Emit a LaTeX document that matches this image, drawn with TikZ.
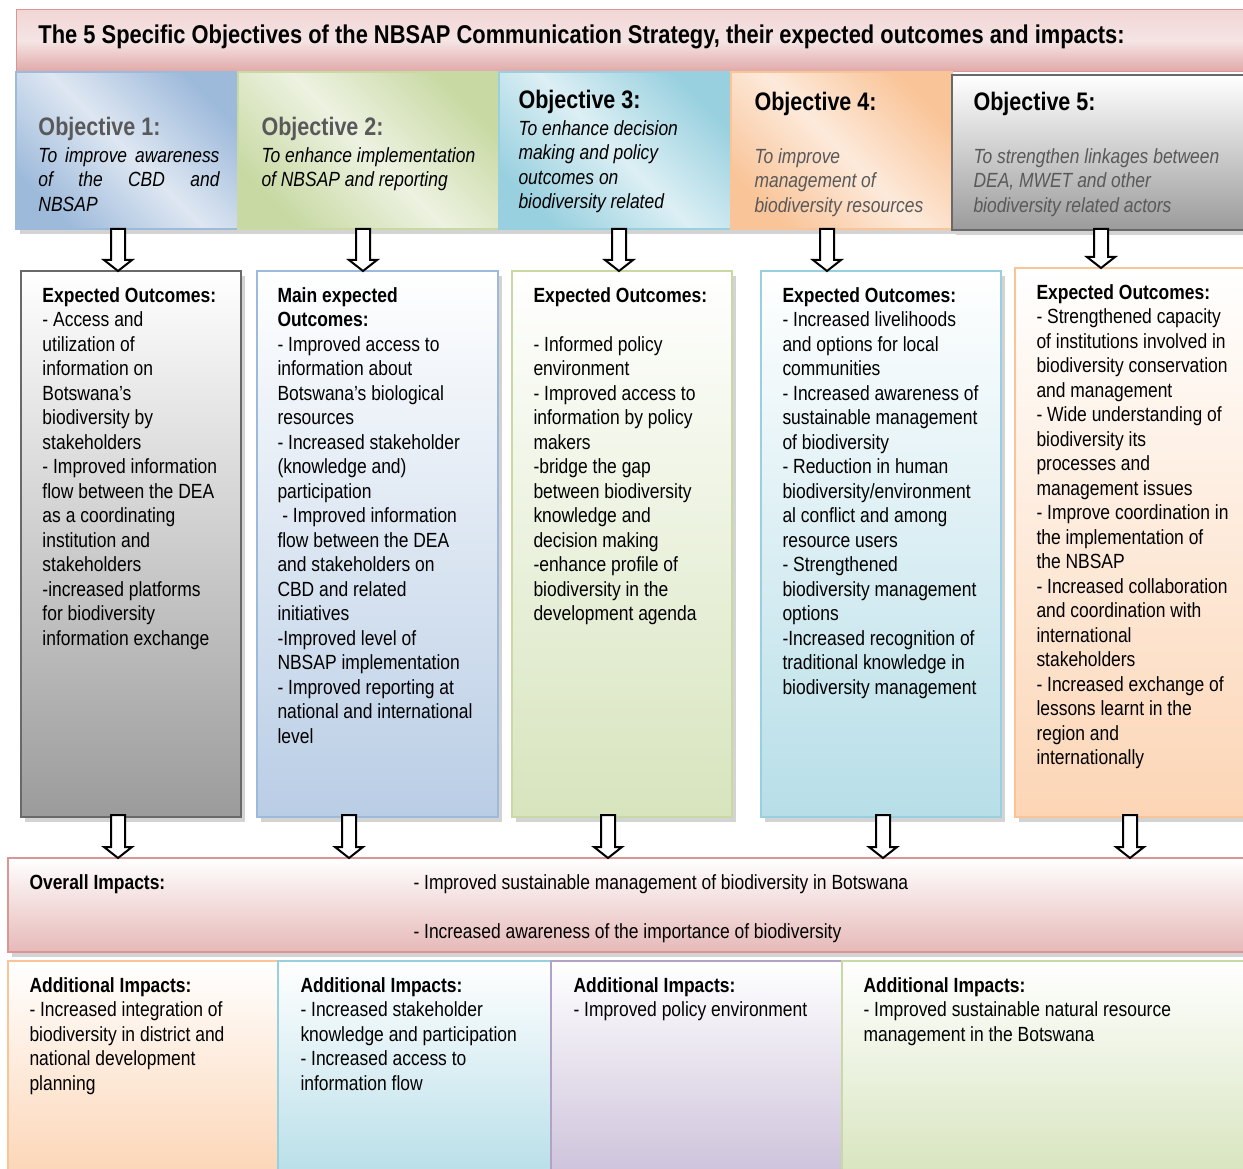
\documentclass[tikz,border=0pt]{standalone}
\usepackage{fontspec}
\setmainfont{Liberation Sans}[FakeStretch=0.85]
\usetikzlibrary{calc,fit,shadows}

\definecolor{pinkdark}{RGB}{217,150,148}
\definecolor{pinktop}{RGB}{241,214,213}
\definecolor{pinklight}{RGB}{245,228,228}
\definecolor{pinkbot}{RGB}{224,168,167}
\definecolor{pinkmid}{RGB}{230,185,184}
\definecolor{bluedark}{RGB}{158,186,219}
\definecolor{bluelight}{RGB}{222,231,242}
\definecolor{bluebot}{RGB}{185,205,229}
\definecolor{greendark}{RGB}{200,217,163}
\definecolor{greenlight}{RGB}{237,242,225}
\definecolor{greenbot}{RGB}{215,228,189}
\definecolor{tealdark}{RGB}{152,208,223}
\definecolor{teallight}{RGB}{220,239,244}
\definecolor{tealbot}{RGB}{183,222,232}
\definecolor{orangedark}{RGB}{249,196,152}
\definecolor{orangelight}{RGB}{253,234,219}
\definecolor{orangebot}{RGB}{252,213,181}
\definecolor{purpledark}{RGB}{179,162,199}
\definecolor{purplebot}{RGB}{204,193,218}
\definecolor{greyline}{RGB}{105,105,105}
\definecolor{greybot}{RGB}{155,155,155}
\definecolor{textgrey}{RGB}{89,89,89}

\tikzset{every picture/.style={line width=0.75pt}}
\tikzset{
  boxshadow/.style={drop shadow={shadow xshift=3pt, shadow yshift=-3.5pt, opacity=0.35}},
  banner/.style={inner sep=0pt, draw=pinkdark, line width=0.75pt, top color=pinktop, bottom color=pinkbot, middle color=pinklight},
  objbox/.style 2 args={inner sep=0pt, draw=#1, line width=1pt, top color=#1, bottom color=#1, middle color=#2, shading angle=-45, boxshadow},
  lastobjbox/.style={inner sep=0pt, draw=greyline, line width=1.8pt, top color=white, bottom color=greybot, boxshadow},
  outbox/.style 2 args={inner sep=0pt, draw=#1, line width=1.8pt, top color=white, bottom color=#2, boxshadow},
  addbox/.style 2 args={inner sep=0pt, draw=#1, line width=1.8pt, top color=white, bottom color=#2},
  headline/.style={inner sep=0pt, anchor=base west, font=\bfseries\fontsize{19.3}{23}\selectfont},
  objtitle/.style={inner sep=0pt, anchor=base west, font=\bfseries\fontsize{19}{22}\selectfont},
  objtext/.style={inner sep=0pt, anchor=north west, align=left, font=\itshape\fontsize{15.4}{18.375}\selectfont},
  bodytext/.style={inner sep=0pt, anchor=north west, align=left, font=\fontsize{15.4}{18.375}\selectfont},
  hollowarrow/.style={draw=black, fill=white, line width=1.5pt, line join=miter},
}

% block arrow pointing down, from #1 (top) to #2 (tip)
\newcommand{\downarrowbox}[2]{%
  \draw[hollowarrow] ($(#1)+(-7,0)$) -- ($(#1)+(7,0)$) -- ($(#2)+(7,-11)$) -- ($(#2)+(14,-11)$) -- (#2) -- ($(#2)+(-14,-11)$) -- ($(#2)+(-7,-11)$) -- cycle;}

\begin{document}
\begin{tikzpicture}[x=0.75pt,y=0.75pt,yscale=-1,xscale=1]
	\useasboundingbox (0,0) rectangle (1243,1169);
	\clip (0,0) rectangle (1243,1169);

	% Banner
	\node[banner, fit={(16,10) (1252,72)}] (banner) {};
	\node[headline] (bannertext) at (38,44) {The 5 Specific Objectives of the NBSAP Communication Strategy, their expected outcomes and impacts:};

	% Objective boxes
	\node[objbox={bluedark}{bluelight}, fit={(16,72) (238,229)}] (obj1) {};
	\node[objbox={greendark}{greenlight}, fit={(238,72) (499,229)}] (obj2) {};
	\node[objbox={tealdark}{teallight}, fit={(499,72) (731,229)}] (obj3) {};
	\node[objbox={orangedark}{orangelight}, fit={(731,72) (952,229)}] (obj4) {};
	\node[lastobjbox, fit={(952,75) (1252,230)}] (obj5) {};

	% Text Node
	\node[objtitle, text=textgrey] (obj1title) at (38,136) {Objective 1:};
	\node[objtext] (obj1text) at (38,147) {\makebox[135.75pt][s]{To improve awareness}\\\makebox[135.75pt][s]{of the CBD and}\\NBSAP};
	% Text Node
	\node[objtitle, text=textgrey] (obj2title) at (261,136) {Objective 2:};
	\node[objtext] (obj2text) at (261,147) {To enhance implementation\\of NBSAP and reporting};
	% Text Node
	\node[objtitle] (obj3title) at (518,109) {Objective 3:};
	\node[objtext] (obj3text) at (518,120) {To enhance decision\\making and policy\\outcomes on\\biodiversity related};
	% Text Node
	\node[objtitle] (obj4title) at (754,111) {Objective 4:};
	\node[objtext, text=textgrey] (obj4text) at (754,148) {To improve\\management of\\biodiversity resources};
	% Text Node
	\node[objtitle] (obj5title) at (973,111) {Objective 5:};
	\node[objtext, text=textgrey] (obj5text) at (973,148) {To strengthen linkages between\\DEA, MWET and other\\biodiversity related actors};

	% Outcome boxes
	\node[outbox={greyline}{greybot}, fit={(21,271) (241,817)}] (out1) {};
	\node[outbox={bluedark}{bluebot}, fit={(257,271) (498,817)}] (out2) {};
	\node[outbox={greendark}{greenbot}, fit={(512,271) (732,817)}] (out3) {};
	\node[outbox={tealdark}{tealbot}, fit={(761,271) (1001,817)}] (out4) {};
	\node[outbox={orangedark}{orangebot}, fit={(1015,268) (1252,817)}] (out5) {};

	% Text Node
	\node[bodytext] (out1text) at (42,287) {\textbf{Expected Outcomes:}\\- Access and\\utilization of\\information on\\Botswana’s\\biodiversity by\\stakeholders\\- Improved information\\flow between the DEA\\as a coordinating\\institution and\\stakeholders\\-increased platforms\\for biodiversity\\information exchange};
	% Text Node
	\node[bodytext] (out2text) at (277,287) {\textbf{Main expected}\\\textbf{Outcomes:}\\- Improved access to\\information about\\Botswana’s biological\\resources\\- Increased stakeholder\\(knowledge and)\\participation\\\ - Improved information\\flow between the DEA\\and stakeholders on\\CBD and related\\initiatives\\-Improved level of\\NBSAP implementation\\- Improved reporting at\\national and international\\level};
	% Text Node
	\node[bodytext] (out3text) at (533,287) {\textbf{Expected Outcomes:}\\[18.375pt]- Informed policy\\environment\\- Improved access to\\information by policy\\makers\\-bridge the gap\\between biodiversity\\knowledge and\\decision making\\-enhance profile of\\biodiversity in the\\development agenda};
	% Text Node
	\node[bodytext] (out4text) at (782,287) {\textbf{Expected Outcomes:}\\- Increased livelihoods\\and options for local\\communities\\- Increased awareness of\\sustainable management\\of biodiversity\\- Reduction in human\\biodiversity/environment\\al conflict and among\\resource users\\- Strengthened\\biodiversity management\\options\\-Increased recognition of\\traditional knowledge in\\biodiversity management};
	% Text Node
	\node[bodytext] (out5text) at (1036,284) {\textbf{Expected Outcomes:}\\- Strengthened capacity\\of institutions involved in\\biodiversity conservation\\and management\\- Wide understanding of\\biodiversity its\\processes and\\management issues\\- Improve coordination in\\the implementation of\\the NBSAP\\- Increased collaboration\\and coordination with\\international\\stakeholders\\- Increased exchange of\\lessons learnt in the\\region and\\internationally};

	% Overall impacts
	\node[outbox={pinkdark}{pinkmid}, fit={(8,858) (1252,952)}] (overall) {};
	\node[bodytext, font=\bfseries\fontsize{15.4}{18.375}\selectfont] (overalltitle) at (29,874) {Overall Impacts:};
	\node[bodytext] (overalltext) at (413,874) {- Improved sustainable management of biodiversity in Botswana\\[18.375pt]- Increased awareness of the importance of biodiversity};

	% Additional impacts
	\node[addbox={orangedark}{orangebot}, fit={(8,961) (278,1180)}] (add1) {};
	\node[addbox={tealdark}{tealbot}, fit={(278,961) (551,1180)}] (add2) {};
	\node[addbox={purpledark}{purplebot}, fit={(551,961) (842,1180)}] (add3) {};
	\node[addbox={greendark}{greenbot}, fit={(842,961) (1252,1180)}] (add4) {};

	% Text Node
	\node[bodytext] (add1text) at (29,977) {\textbf{Additional Impacts:}\\- Increased integration of\\biodiversity in district and\\national development\\planning};
	\node[bodytext] (add2text) at (300,977) {\textbf{Additional Impacts:}\\- Increased stakeholder\\knowledge and participation\\- Increased access to\\information flow};
	\node[bodytext] (add3text) at (573,977) {\textbf{Additional Impacts:}\\- Improved policy environment};
	\node[bodytext] (add4text) at (863,977) {\textbf{Additional Impacts:}\\- Improved sustainable natural resource\\management in the Botswana};

	% Arrows objectives -> outcomes
	\coordinate (a1top) at (118,229);  \coordinate (a1tip) at (118,271);
	\coordinate (a2top) at (363,229);  \coordinate (a2tip) at (363,271);
	\coordinate (a3top) at (619,229);  \coordinate (a3tip) at (619,271);
	\coordinate (a4top) at (827,229);  \coordinate (a4tip) at (827,271);
	\coordinate (a5top) at (1101,229); \coordinate (a5tip) at (1101,268);
	\foreach \i in {1,...,5} {\downarrowbox{a\i top}{a\i tip}}

	% Arrows outcomes -> overall impacts
	\coordinate (b1top) at (118,815);  \coordinate (b1tip) at (118,858);
	\coordinate (b2top) at (349,815);  \coordinate (b2tip) at (349,858);
	\coordinate (b3top) at (608,815);  \coordinate (b3tip) at (608,858);
	\coordinate (b4top) at (883,815);  \coordinate (b4tip) at (883,858);
	\coordinate (b5top) at (1130,815); \coordinate (b5tip) at (1130,858);
	\foreach \i in {1,...,5} {\downarrowbox{b\i top}{b\i tip}}

\end{tikzpicture}
\end{document}
